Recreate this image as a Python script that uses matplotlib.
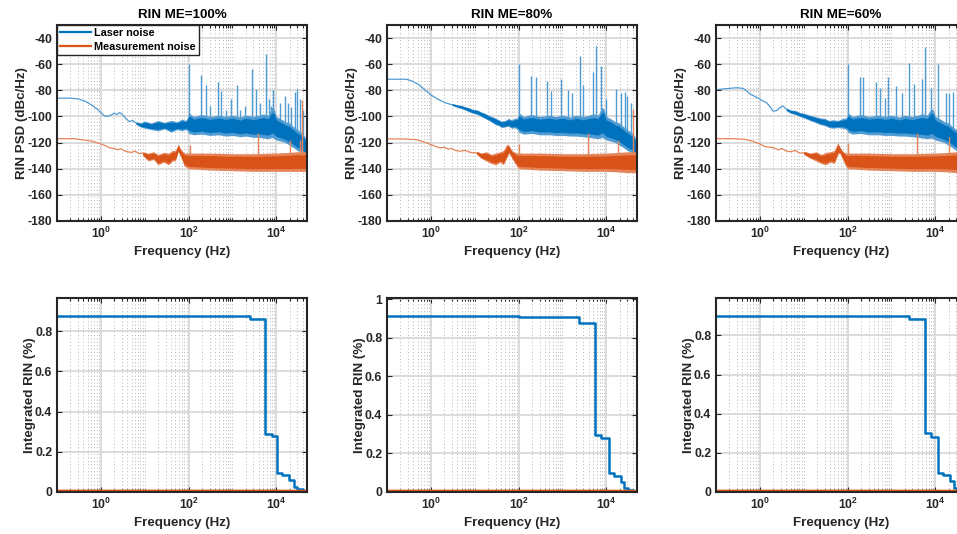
import numpy as np
import matplotlib
matplotlib.use('Agg')
import matplotlib.pyplot as plt
from matplotlib.ticker import FixedLocator, FixedFormatter, FuncFormatter
from matplotlib.lines import Line2D

plt.rcParams['font.family'] = ['Liberation Sans', 'DejaVu Sans']
plt.rcParams['font.weight'] = 'bold'
plt.rcParams['axes.unicode_minus'] = False
plt.rcParams['mathtext.fontset'] = 'custom'
plt.rcParams['mathtext.rm'] = 'Liberation Sans:bold'
plt.rcParams['mathtext.bf'] = 'Liberation Sans:bold'
plt.rcParams['mathtext.it'] = 'Liberation Sans:bold'

# ---------------- data ----------------
titles = ['RIN ME=100%', 'RIN ME=80%', 'RIN ME=60%']
legend_labels = ['Laser noise', 'Measurement noise']
xtick_vals = [1, 100, 1e4]
xtick_labels = [r'$\mathbf{10^{0}}$', r'$\mathbf{10^{2}}$', r'$\mathbf{10^{4}}$']
psd_yticks = [-180, -160, -140, -120, -100, -80, -60, -40]

# --- ME = 100 % : laser noise PSD (smooth low-frequency part, noisy band envelope, spikes)
l100_lf_f = [0.1, 0.2, 0.3, 0.45, 0.6, 0.8, 1.0, 1.2, 1.4, 1.7, 2.0, 2.3, 2.7, 3.2, 3.8, 4.5, 5.3, 6.3]
l100_lf_db = [-86, -86, -86.5, -88.5, -91, -94, -97, -99.5, -100, -99, -97.5, -98.5, -97, -99, -102, -104, -103, -105]
l100_b_f = [6.3, 8, 10, 14, 20, 28, 40, 55, 70, 85, 95, 100, 130, 200, 300, 500, 700, 1000, 1500, 2000,
            3000, 4000, 5000, 6500, 8000, 9000, 1e4, 1.3e4, 1.6e4, 2e4, 2.5e4, 3e4, 4e4, 5e4]
l100_b_hi = [-104, -105, -103.5, -105, -103, -104.5, -103, -104, -102, -103, -101, -97, -100, -98.5, -100, -99, -100, -99, -100.5, -99,
             -100, -99, -98, -99, -93, -95, -100, -102, -104, -105, -108, -110, -113, -118]
l100_b_lo = [-106, -108, -109, -110, -111, -109.5, -112, -110, -111, -110, -111, -113, -114, -113.5, -114.5, -114, -115, -114.5, -115.5, -115,
             -116, -116, -116.5, -117, -116, -117, -118, -119, -120, -122, -124, -126, -128, -131]
l100_sp_f = [100, 187, 250, 300, 460, 550, 700, 930, 1260, 1500, 1960, 2760, 3480, 4200, 5880, 6800, 7500, 8300, 12000, 15400, 18000, 22000, 26000, 30000, 34000, 40000]
l100_sp_db = [-60, -68.5, -76, -92, -74, -80.5, -95, -87, -76, -95, -92, -64, -79, -90, -52.3, -87, -92, -80, -90, -84, -90, -93, -81, -79, -87, -95]
# --- ME = 100 % : measurement noise PSD
m100_lf_f = [0.1, 0.25, 0.4, 0.65, 1.0, 1.3, 1.6, 2.0, 2.4, 2.8, 3.3, 4.0, 5.0, 6.0, 7.5, 9.0]
m100_lf_db = [-117, -117, -118, -119, -121, -122.5, -124, -124.5, -125.5, -124.5, -126, -127, -127.5, -126.5, -128.5, -128]
m100_b_f = [9, 12, 16, 20, 27, 35, 43, 50, 58, 66, 80, 100, 300, 1000, 3000, 1e4, 2e4, 3e4, 5e4]
m100_b_hi = [-127, -128, -127, -129, -127.5, -128, -126, -126, -121, -125, -128, -128, -128, -128.5, -128.5, -128, -127.5, -127, -127]
m100_b_lo = [-130, -134, -133, -137, -135, -137, -134, -134, -127, -131, -138, -140, -141, -141.5, -142, -142, -142, -142, -142]
m100_sp_f = [107, 3800, 20000, 34000, 39000, 49800]
m100_sp_db = [-121.5, -112.6, -117.7, -118, -87.4, -180]

# --- ME = 80 % : laser noise PSD
l80_lf_f = [0.1, 0.2, 0.28, 0.38, 0.52, 0.7, 1.0, 1.4, 2.1, 3.0]
l80_lf_db = [-71.5, -71.5, -71.5, -73, -75.5, -79, -83.5, -86.5, -89.5, -91]
l80_b_f = [3.0, 4, 5, 6, 7, 9, 11.6, 14, 17, 22, 29, 35, 41, 50, 58, 70, 80, 95, 100, 130, 200, 300, 500, 700,
           1000, 1500, 2000, 3000, 4000, 5000, 6500, 8000, 9000, 1e4, 1.3e4, 1.6e4, 2e4, 2.5e4, 3e4, 4e4, 5e4]
l80_b_hi = [-90, -91, -91.5, -92.5, -93, -94.5, -95, -96.5, -97.5, -99.5, -101, -102.5, -103.5, -103, -101.5, -102.5, -101.5, -101, -97, -100,
            -98.5, -100, -99, -100, -99, -100.5, -99, -100, -99, -98, -99, -93, -95, -100, -102, -104, -105, -108, -110, -113, -118]
l80_b_lo = [-91.5, -93, -94, -95, -96, -97.5, -98.5, -100, -101.5, -103.5, -106, -107, -108.5, -108, -107.5, -109, -108.5, -110, -112, -113.5,
            -113, -114, -114, -114.5, -114.5, -115, -115, -115.5, -116, -116.5, -117, -116, -117, -118, -119, -120, -122, -124, -126, -128, -131]
l80_sp_f = [100, 190, 245, 450, 550, 910, 1320, 1650, 2500, 3000, 4900, 5900, 7600, 9800, 16600, 21600, 26000, 29000, 36000]
l80_sp_db = [-59.5, -69, -70, -73, -80.5, -71, -80, -82, -53.5, -76, -66, -46.2, -61, -87, -79, -82, -81, -84, -90]
# --- ME = 80 % : measurement noise PSD
m80_lf_f = [0.1, 0.25, 0.47, 0.7, 1.0, 1.3, 1.6, 2.0, 2.5, 3.0, 3.6, 4.6, 6, 8, 11]
m80_lf_db = [-117.2, -117.2, -117.8, -119.5, -121.5, -123, -124, -123.5, -125, -124.5, -126, -126.6, -126, -127.5, -128]
m80_b_f = [11, 14, 18, 24, 30, 38, 45, 55, 60, 70, 90, 100, 300, 1000, 3000, 1e4, 2e4, 3e4, 5e4]
m80_b_hi = [-126.5, -128, -127, -129, -128, -127, -126, -121, -122, -126, -128, -128, -128, -128.5, -128.5, -128, -127.5, -127, -127]
m80_b_lo = [-129, -132, -134, -136, -137, -135, -137, -131, -128, -132, -138, -140, -141, -141.5, -142, -142, -142.5, -143, -143]
m80_sp_f = [100, 3800, 18000, 40000, 49800]
m80_sp_db = [-120.8, -112.6, -117.7, -94.6, -180]

# --- ME = 60 % : laser noise PSD
l60_lf_f = [0.1, 0.2, 0.3, 0.42, 0.59, 0.75, 0.92, 1.15, 1.42, 1.7, 2.0, 2.4, 2.85, 3.4, 4.0]
l60_lf_db = [-79.5, -78.5, -78, -78.5, -82.6, -84.5, -86, -88, -89.5, -92.5, -96, -95.5, -93.3, -92, -94.5]
l60_b_f = [4.0, 5, 6.5, 8.1, 10, 13.7, 18, 23, 30, 38, 46, 60, 78, 95, 100, 130, 200, 300, 500, 700,
           1000, 1500, 2000, 3000, 4000, 5000, 6500, 8000, 9000, 1e4, 1.3e4, 1.6e4, 2e4, 2.5e4, 3e4, 4e4, 5e4]
l60_b_hi = [-93.5, -95, -95.5, -97, -97.5, -99, -100, -101, -101.5, -103, -102.5, -103, -101.5, -101, -97, -100, -98.5, -100, -99, -100,
            -99, -100.5, -99, -100, -99, -98, -99, -94, -95, -100, -102, -104, -105, -108, -110, -113, -118]
l60_b_lo = [-95.5, -97.5, -98.5, -100, -101, -103, -104.5, -106, -107, -108.5, -109, -108.5, -109, -110, -112, -113.5, -113, -114, -114, -114.5,
            -114.5, -115, -115, -115.5, -116, -116.5, -117, -116.5, -117, -118, -119, -120, -122, -124, -126, -128, -131]
l60_sp_f = [100, 187, 223, 435, 534, 700, 830, 1290, 1700, 2550, 3220, 5000, 5900, 8100, 11800, 17400, 21000, 24800]
l60_sp_db = [-60, -69.5, -69.5, -74, -78, -86, -70, -76.5, -82, -59.3, -75.4, -71.5, -46.7, -78, -60, -82.3, -82.3, -81]
# --- ME = 60 % : measurement noise PSD
m60_lf_f = [0.1, 0.25, 0.45, 0.7, 1.0, 1.3, 1.7, 2.1, 2.6, 3.2, 4, 5, 6.5, 8, 10]
m60_lf_db = [-117, -117, -117.5, -119, -121, -123, -123.5, -124, -125.5, -124.5, -126.5, -127, -126, -128, -128]
m60_b_f = [10, 14, 19, 25, 32, 40, 50, 60, 66, 75, 90, 100, 300, 1000, 3000, 1e4, 2e4, 3e4, 5e4]
m60_b_hi = [-126.5, -128, -127, -129, -127.5, -127, -126, -120, -123, -126, -128, -128, -128, -128.5, -128.5, -128, -127.5, -127, -127]
m60_b_lo = [-129, -132, -134, -136, -137, -135, -136, -129, -128, -132, -138, -140, -141, -141.5, -142, -142, -142.5, -143, -143]
m60_sp_f = [100, 3800, 20000]
m60_sp_db = [-120, -112.6, -116]

# --- Integrated RIN (%) : laser noise (step curve)
i100_f = [0.1, 100, 2460, 5430, 7800, 10200, 13800, 19500, 25000, 29500, 40000, 50000]
i100_v = [0.877, 0.873, 0.858, 0.289, 0.279, 0.096, 0.085, 0.06, 0.023, 0.013, 0.005, 0.003]
i80_f = [0.1, 100, 2440, 5500, 7600, 11300, 15200, 21600, 25600, 32000, 40000, 50000]
i80_v = [0.914, 0.909, 0.874, 0.295, 0.278, 0.096, 0.083, 0.053, 0.019, 0.01, 0.005, 0.003]
i60_f = [0.1, 100, 2500, 5800, 7800, 11700, 14800, 22000, 26000, 32000, 40000, 50000]
i60_v = [0.901, 0.898, 0.885, 0.303, 0.283, 0.099, 0.085, 0.055, 0.02, 0.01, 0.005, 0.003]
# --- Integrated RIN (%) : measurement noise
im_f = [0.1, 1e4, 50000]
im_v = [0.005, 0.005, 0.004]

# ---------------- style ----------------
BLUE = '#0072BD'
BLUE_L = '#4f9bd3'
ORANGE = '#D95319'
ORANGE_L = '#e58458'
AXC = '#262626'
TICK_FS = 8.8
LAB_FS = 9.6

W, H = 957, 534
fig = plt.figure(figsize=(W / 100, H / 100), dpi=100)
col_x = [57, 387, 716]
ax_w = 250


def add_ax(x, top, bottom):
    return fig.add_axes([x / W, 1 - bottom / H, ax_w / W, (bottom - top) / H])


minor_x = [m * 10.0 ** k for k in range(-1, 5) for m in range(1, 10)]
minor_x = [v for v in minor_x if 0.1 < v < 5e4 and v not in (1, 100, 1e4)]


def style(ax):
    ax.set_xscale('log')
    ax.set_xlim(0.1, 5e4)
    ax.xaxis.set_major_locator(FixedLocator(xtick_vals))
    ax.xaxis.set_major_formatter(FixedFormatter(xtick_labels))
    ax.xaxis.set_minor_locator(FixedLocator(minor_x))
    ax.xaxis.set_minor_formatter(FixedFormatter([''] * len(minor_x)))
    ax.set_axisbelow(True)
    ax.grid(True, which='major', color='#d6d6d6', lw=1.2, ls='-')
    ax.grid(True, which='minor', axis='x', color='#b5b5b5', lw=0.7, ls=(0, (1, 2.5)))
    ax.tick_params(which='both', direction='in', top=True, right=True,
                   labelsize=TICK_FS, colors=AXC, width=0.8)
    ax.tick_params(which='major', length=3.5)
    ax.tick_params(which='minor', length=2)
    for s in ax.spines.values():
        s.set_linewidth(1.5)
        s.set_color(AXC)
    ax.set_xlabel('Frequency (Hz)', fontsize=LAB_FS, fontweight='bold', color=AXC, labelpad=3.5)


def draw_psd(ax, lf_f, lf_db, bf, bhi, blo, sf, sdb, col, light):
    bf = np.array(bf); bhi = np.array(bhi); blo = np.array(blo)
    ax.plot(lf_f, lf_db, color=light, lw=0.9)
    ax.fill_between(bf, blo, bhi, color=light, lw=0)
    core_hi = bhi - 0.15 * (bhi - blo)
    core_lo = blo + 0.15 * (bhi - blo)
    ax.fill_between(bf, core_lo, core_hi, color=col, lw=0)
    sf = np.array(sf); sdb = np.array(sdb)
    base = np.interp(np.log10(sf), np.log10(bf), core_hi)
    ax.vlines(sf, np.minimum(base, sdb), np.maximum(base, sdb), color=light, lw=1.0)


psd_sets = [
    (l100_lf_f, l100_lf_db, l100_b_f, l100_b_hi, l100_b_lo, l100_sp_f, l100_sp_db,
     m100_lf_f, m100_lf_db, m100_b_f, m100_b_hi, m100_b_lo, m100_sp_f, m100_sp_db),
    (l80_lf_f, l80_lf_db, l80_b_f, l80_b_hi, l80_b_lo, l80_sp_f, l80_sp_db,
     m80_lf_f, m80_lf_db, m80_b_f, m80_b_hi, m80_b_lo, m80_sp_f, m80_sp_db),
    (l60_lf_f, l60_lf_db, l60_b_f, l60_b_hi, l60_b_lo, l60_sp_f, l60_sp_db,
     m60_lf_f, m60_lf_db, m60_b_f, m60_b_hi, m60_b_lo, m60_sp_f, m60_sp_db),
]
int_sets = [(i100_f, i100_v), (i80_f, i80_v), (i60_f, i60_v)]

for i in range(3):
    # top: PSD
    ax = add_ax(col_x[i], 25, 221)
    d = psd_sets[i]
    draw_psd(ax, *d[0:7], BLUE, BLUE_L)
    draw_psd(ax, *d[7:14], ORANGE, ORANGE_L)
    style(ax)
    ax.set_ylim(-180, -30)
    ax.set_yticks(psd_yticks)
    ax.set_ylabel('RIN PSD (dBc/Hz)', fontsize=LAB_FS, fontweight='bold', color=AXC, labelpad=-0.5)
    ax.set_title(titles[i], fontsize=LAB_FS, fontweight='bold', color='black', pad=5)
    if i == 0:
        handles = [Line2D([], [], color=BLUE, lw=1.6), Line2D([], [], color=ORANGE, lw=1.6)]
        leg = ax.legend(handles, legend_labels, loc='upper left', bbox_to_anchor=(0, 1),
                        borderaxespad=0, frameon=True, fancybox=False, framealpha=1,
                        edgecolor=AXC, prop={'size': 7.8, 'weight': 'bold'},
                        handlelength=2.8, handletextpad=0.35, borderpad=0.3, labelspacing=0.3)
        leg.get_frame().set_linewidth(1.0)

    # bottom: integrated RIN
    ax2 = add_ax(col_x[i], 298, 492)
    f, v = int_sets[i]
    ax2.plot(f, v, drawstyle='steps-post', color=BLUE, lw=1.8)
    ax2.plot(im_f, im_v, color=ORANGE, lw=2.0)
    style(ax2)
    top = 1.1 * max(v)
    ax2.set_ylim(0, top)
    ax2.set_yticks([t for t in [0, 0.2, 0.4, 0.6, 0.8, 1.0] if t <= top + 1e-9])
    ax2.yaxis.set_major_formatter(FuncFormatter(lambda x, p: '%g' % x))
    ax2.set_ylabel('Integrated RIN (%)', fontsize=LAB_FS, fontweight='bold', color=AXC, labelpad=-1)

fig.savefig('out.png', dpi=100)
